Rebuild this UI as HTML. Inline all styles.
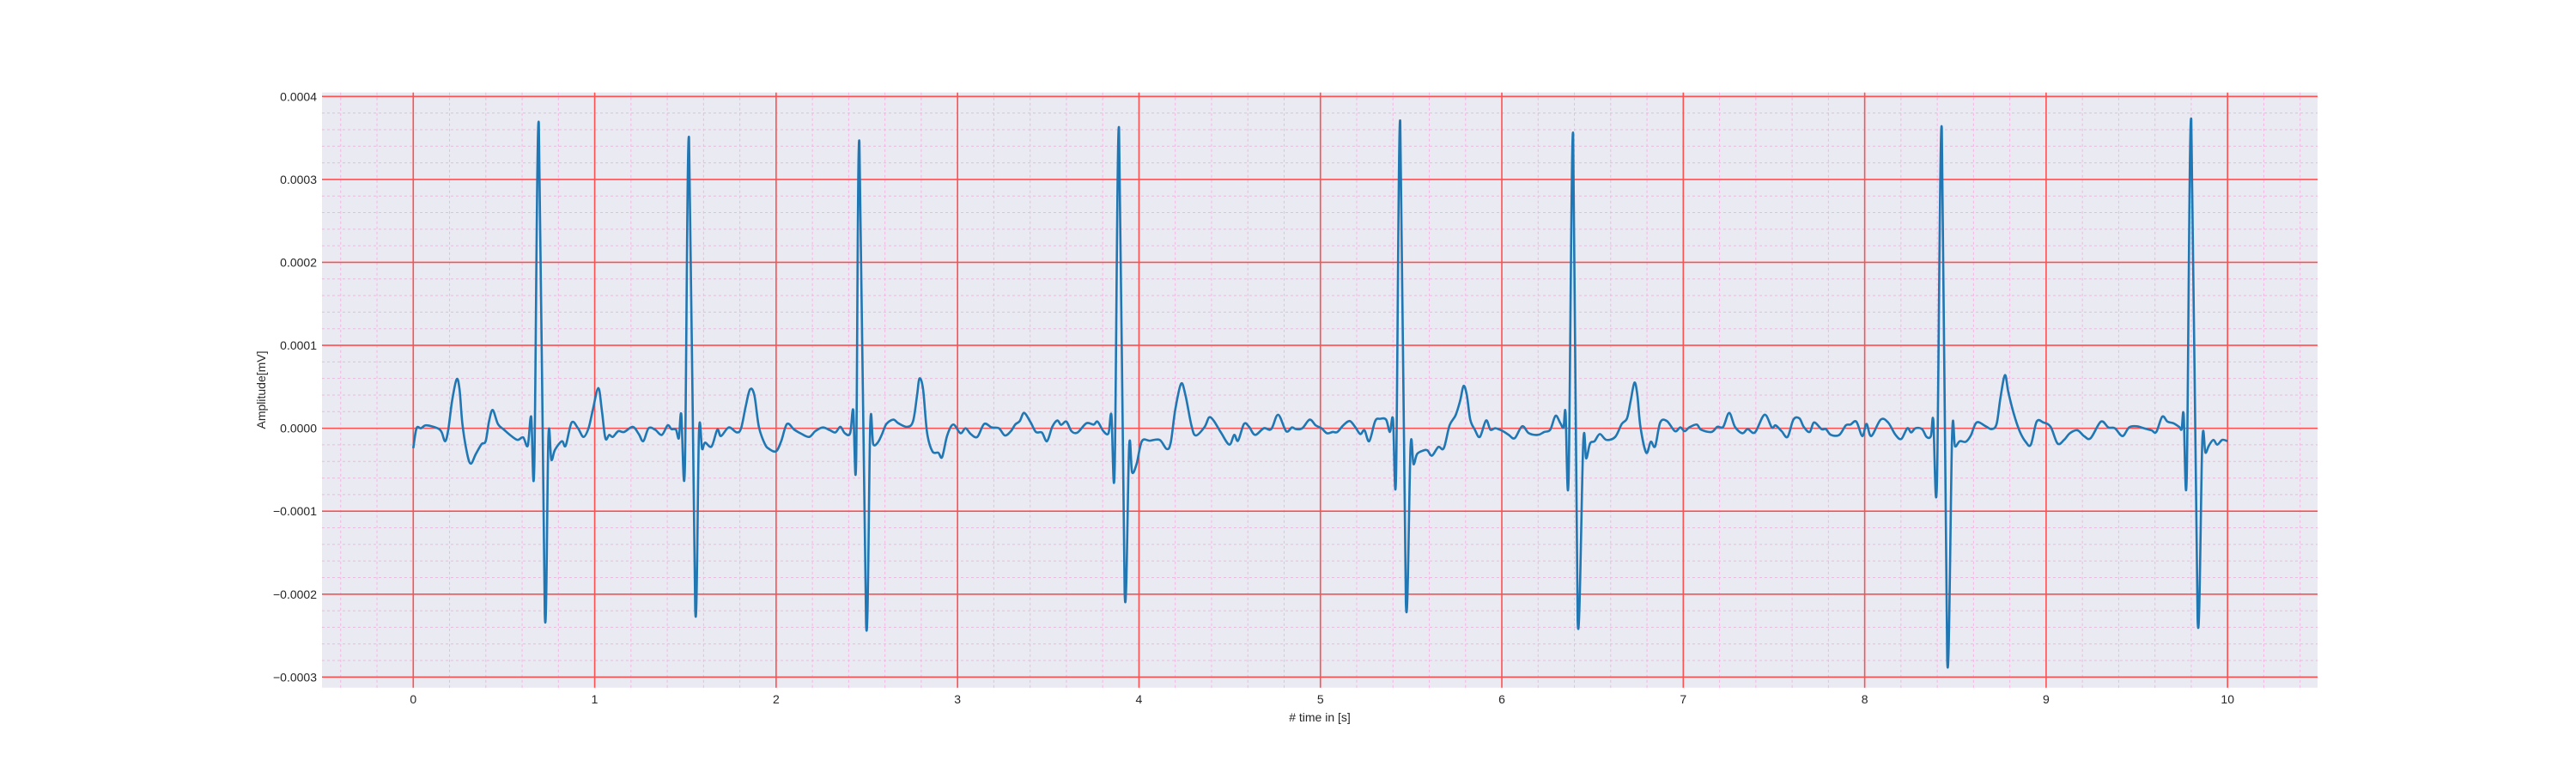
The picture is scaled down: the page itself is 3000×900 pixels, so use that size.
<!DOCTYPE html>
<html><head><meta charset="utf-8">
<style>
html,body{margin:0;padding:0;background:#fff;}
svg{display:block;font-family:"Liberation Sans",sans-serif;}
</style></head>
<body>
<svg id="chart" width="3000" height="900" viewBox="0 0 3000 900" xmlns="http://www.w3.org/2000/svg">
  <rect x="375" y="107.7" width="2324" height="693" fill="#eaeaf2"/>
  <g id="grid"></g>
  <g id="series"></g>
  <g id="axes"></g>
  <text x="1537" y="840" font-size="14" fill="#262626" text-anchor="middle"># time in [s]</text>
  <text x="0" y="0" font-size="14" fill="#262626" text-anchor="middle" transform="translate(309,454) rotate(-90)">Amplitude[mV]</text>
</svg>
<script>
const xTicks = [0,1,2,3,4,5,6,7,8,9,10];
const yTicks = [-0.0003,-0.0002,-0.0001,0,0.0001,0.0002,0.0003,0.0004];
const yTickLabels = ["\u22120.0003","\u22120.0002","\u22120.0001","0.0000","0.0001","0.0002","0.0003","0.0004"];
const ampUnit = 1e-5;
const times = [0,0.018,0.042,0.067,0.10,0.14,0.157,0.176,0.193,0.214,0.239,0.255,0.271,0.296,0.317,0.345,0.377,0.399,0.418,0.438,0.467,0.50,0.533,0.574,0.606,0.631,0.650,0.667,0.692,0.725,0.745,0.761,0.781,0.819,0.84,0.873,0.908,0.938,0.966,0.99,1.02,1.039,1.059,1.08,1.10,1.13,1.162,1.21,1.243,1.268,1.297,1.333,1.37,1.402,1.423,1.448,1.464,1.477,1.497,1.52,1.554,1.575,1.592,1.608,1.644,1.676,1.696,1.739,1.783,1.807,1.832,1.856,1.88,1.905,1.938,1.962,2.0,2.028,2.06,2.10,2.142,2.183,2.216,2.257,2.297,2.327,2.354,2.379,2.408,2.425,2.441,2.459,2.496,2.519,2.535,2.56,2.584,2.608,2.646,2.674,2.723,2.755,2.777,2.79,2.81,2.832,2.861,2.894,2.915,2.943,2.976,3.016,3.044,3.073,3.109,3.147,3.188,3.228,3.261,3.294,3.318,3.343,3.367,3.403,3.432,3.465,3.493,3.522,3.55,3.571,3.6,3.628,3.661,3.71,3.75,3.772,3.804,3.832,3.848,3.866,3.89,3.921,3.946,3.962,3.987,4.016,4.06,4.114,4.153,4.175,4.2,4.232,4.256,4.289,4.313,4.362,4.386,4.411,4.452,4.498,4.525,4.546,4.579,4.607,4.64,4.688,4.729,4.767,4.811,4.843,4.865,4.9,4.941,4.974,5.006,5.036,5.068,5.093,5.126,5.161,5.191,5.22,5.243,5.269,5.302,5.329,5.362,5.383,5.4,5.417,5.44,5.471,5.497,5.513,5.533,5.569,5.59,5.615,5.65,5.68,5.712,5.745,5.77,5.789,5.807,5.826,5.851,5.879,5.913,5.937,5.965,6.006,6.038,6.071,6.112,6.149,6.198,6.234,6.267,6.296,6.323,6.34,6.351,6.368,6.393,6.418,6.449,6.465,6.486,6.511,6.54,6.576,6.625,6.661,6.69,6.71,6.731,6.747,6.764,6.796,6.821,6.845,6.873,6.91,6.954,6.984,7.008,7.033,7.074,7.098,7.155,7.188,7.22,7.253,7.285,7.326,7.355,7.395,7.448,7.488,7.509,7.542,7.575,7.607,7.64,7.664,7.697,7.721,7.762,7.786,7.814,7.86,7.896,7.922,7.954,7.987,8.01,8.036,8.088,8.129,8.17,8.202,8.235,8.256,8.28,8.316,8.341,8.365,8.378,8.398,8.425,8.455,8.482,8.498,8.524,8.557,8.585,8.617,8.667,8.699,8.727,8.748,8.773,8.792,8.822,8.854,8.887,8.916,8.948,8.985,9.025,9.063,9.099,9.131,9.172,9.209,9.245,9.302,9.343,9.379,9.421,9.457,9.498,9.539,9.58,9.607,9.64,9.669,9.702,9.733,9.747,9.758,9.775,9.8,9.835,9.861,9.878,9.897,9.922,9.943,9.971,10.0];
const amps = [-2.4,0,0,0.35,0.25,-0.07,-0.5,-1.56,-0.17,3.3,5.9,4.7,0.5,-2.95,-4.26,-3.1,-1.9,-1.56,0.87,2.2,0.5,-0.17,-0.8,-1.4,-1.1,-2.1,1.4,-4.7,36.8,-22.4,-0.94,-3.8,-2.6,-1.56,-2.1,0.7,0,-1.04,0,2.25,4.85,2.25,-1.2,-0.8,-1.04,-0.35,-0.45,0.17,-0.7,-1.56,0,-0.17,-0.8,0.35,-0.1,-0.17,-1.2,1.73,-4.85,35.0,-21.8,-0.35,-2.5,-1.73,-2.2,-0.17,-0.94,0.1,-0.5,0,2.6,4.68,4.0,0.17,-1.9,-2.5,-2.77,-1.56,0.52,-0.17,-0.7,-1.04,-0.35,0.1,-0.24,-0.5,0.17,-0.6,-0.6,2.2,-4.16,34.5,-23.6,0.52,-1.9,-1.73,-0.7,0.52,1.04,0.6,0.17,0.87,4.0,6.0,4.7,-0.52,-2.77,-2.95,-3.47,-0.87,0.45,-0.6,0,-0.7,-1.04,0.52,0.1,0,-0.87,-0.35,0.45,0.87,1.84,0.7,-0.45,-0.52,-1.56,0.17,0.94,0.42,0.8,-0.35,-0.52,0.6,0.45,0.8,-0.35,-0.6,1.63,-5.0,36.2,-19.8,-2.1,-5.3,-4.3,-1.56,-1.5,-1.4,-2.5,-1.73,2.25,5.37,4.0,0.35,-0.87,0.17,1.3,0.94,-0.52,-1.97,-0.8,-1.5,0.52,0.17,-0.8,0,-0.1,1.63,-0.35,0.1,-0.1,0,1.04,0.35,0,-0.6,-0.45,-0.45,0.35,0.87,0.17,-0.7,-0.24,-1.56,0.87,1.14,1.04,-0.45,1.14,-5.72,37.0,-21.0,-2.18,-4.33,-3.1,-2.67,-2.67,-3.3,-2.25,-2.4,0.35,1.56,3.3,5.1,4.0,1.04,-0.17,-1.04,0.94,-0.17,0,-0.35,-0.8,-1.2,0.24,-0.6,-0.8,-0.45,-0.17,1.5,0.6,0.1,1.97,-6.07,35.5,-23.2,-1.63,-3.64,-1.84,-1.56,-0.7,-1.4,-1.04,0.52,1.2,3.3,5.5,4.0,0.17,-2.95,-1.63,-2.18,0.7,0.87,-0.35,0.1,-0.35,0.1,0.45,-0.17,-0.45,0.17,0.17,1.84,0.17,-0.6,-0.1,-0.5,1.63,0.1,0.35,-0.35,-1.04,1.04,1.2,0.17,-0.45,0.7,-0.1,-0.1,-0.8,-0.8,0.35,0.45,0.8,-0.94,0.52,-0.94,1.04,0.7,-0.8,-1.28,0,-0.5,0,-0.1,-1.04,-0.94,1.04,-6.8,36.2,-28.0,-0.7,-2.18,-1.56,-1.63,-0.87,0.7,0.24,-0.1,0.52,3.64,6.4,4.33,1.73,-0.35,-1.63,-1.97,0.8,0.7,0.17,-1.84,-1.4,-0.6,-0.24,-0.94,-1.2,0.8,0.1,0,-0.94,0.1,0.24,0,-0.24,-0.45,1.4,0.8,0.6,0.17,-0.1,1.73,-5.9,37.2,-23.0,-1.5,-2.95,-2.1,-1.4,-1.97,-1.4,-1.56];

const NS = "http://www.w3.org/2000/svg";
const X0 = 375, X1 = 2699, Y0 = 107.7, Y1 = 800.7;
const xMin = -0.503, xMax = 10.496, yMin = -0.0003128, yMax = 0.0004048;
function xs(t){ return X0 + (t - xMin) / (xMax - xMin) * (X1 - X0); }
function ys(v){ return Y1 - (v - yMin) / (yMax - yMin) * (Y1 - Y0); }

const grid = document.getElementById('grid');
const axes = document.getElementById('axes');
function line(parent, x1, y1, x2, y2, stroke, w, dash){
  const l = document.createElementNS(NS, 'line');
  l.setAttribute('x1', x1); l.setAttribute('y1', y1);
  l.setAttribute('x2', x2); l.setAttribute('y2', y2);
  l.setAttribute('stroke', stroke); l.setAttribute('stroke-width', w);
  if (dash) l.setAttribute('stroke-dasharray', dash);
  parent.appendChild(l);
  return l;
}
for (let k = -2; k <= 52; k++) {
  if (k % 5 === 0) continue;
  const t = k * 0.2;
  if (t < xMin || t > xMax) continue;
  const l = line(grid, xs(t), Y0, xs(t), Y1, '#f5b4e2', 1, '3,3');
  
  
}
for (let k = -15; k <= 20; k++) {
  if (k % 5 === 0) continue;
  const v = k * 0.00002;
  if (v < yMin || v > yMax) continue;
  const l = line(grid, X0, ys(v), X1, ys(v), '#f5b4e2', 1, '3,3');
  
  
}
xTicks.forEach(function(t){
  const l = line(grid, xs(t), Y0, xs(t), Y1, '#ff4f4f', 1.6);
  
  
  const tx = document.createElementNS(NS, 'text');
  tx.setAttribute('x', xs(t)); tx.setAttribute('y', 819);
  tx.setAttribute('font-size', '14'); tx.setAttribute('fill', '#262626');
  tx.setAttribute('text-anchor', 'middle');
  tx.textContent = String(t);
  
  
  axes.appendChild(tx);
});
yTicks.forEach(function(v, i){
  const l = line(grid, X0, ys(v), X1, ys(v), '#ff4f4f', 1.6);
  
  
  const tx = document.createElementNS(NS, 'text');
  tx.setAttribute('x', 369); tx.setAttribute('y', ys(v) + 5);
  tx.setAttribute('font-size', '14'); tx.setAttribute('fill', '#262626');
  tx.setAttribute('text-anchor', 'end');
  tx.textContent = yTickLabels[i];
  
  
  axes.appendChild(tx);
});
// smooth series (Catmull-Rom -> cubic bezier)
const pts = times.map(function(t, i){ return [xs(t), ys(amps[i] * ampUnit)]; });
let d = 'M' + pts[0][0].toFixed(2) + ',' + pts[0][1].toFixed(2);
const tension = 0.5;
for (let i = 0; i < pts.length - 1; i++) {
  const p0 = pts[Math.max(0, i - 1)], p1 = pts[i], p2 = pts[i + 1], p3 = pts[Math.min(pts.length - 1, i + 2)];
  const c1x = p1[0] + (p2[0] - p0[0]) / 6 * tension * 2;
  const c1y = p1[1] + (p2[1] - p0[1]) / 6 * tension * 2;
  const c2x = p2[0] - (p3[0] - p1[0]) / 6 * tension * 2;
  const c2y = p2[1] - (p3[1] - p1[1]) / 6 * tension * 2;
  d += 'C' + c1x.toFixed(2) + ',' + c1y.toFixed(2) + ' ' + c2x.toFixed(2) + ',' + c2y.toFixed(2) + ' ' + p2[0].toFixed(2) + ',' + p2[1].toFixed(2);
}
const path = document.createElementNS(NS, 'path');
path.setAttribute('d', d);
path.setAttribute('fill', 'none');
path.setAttribute('stroke', '#1f77b4');
path.setAttribute('stroke-width', '2.6');
path.setAttribute('stroke-linejoin', 'round');


document.getElementById('series').appendChild(path);
</script>
</body></html>
